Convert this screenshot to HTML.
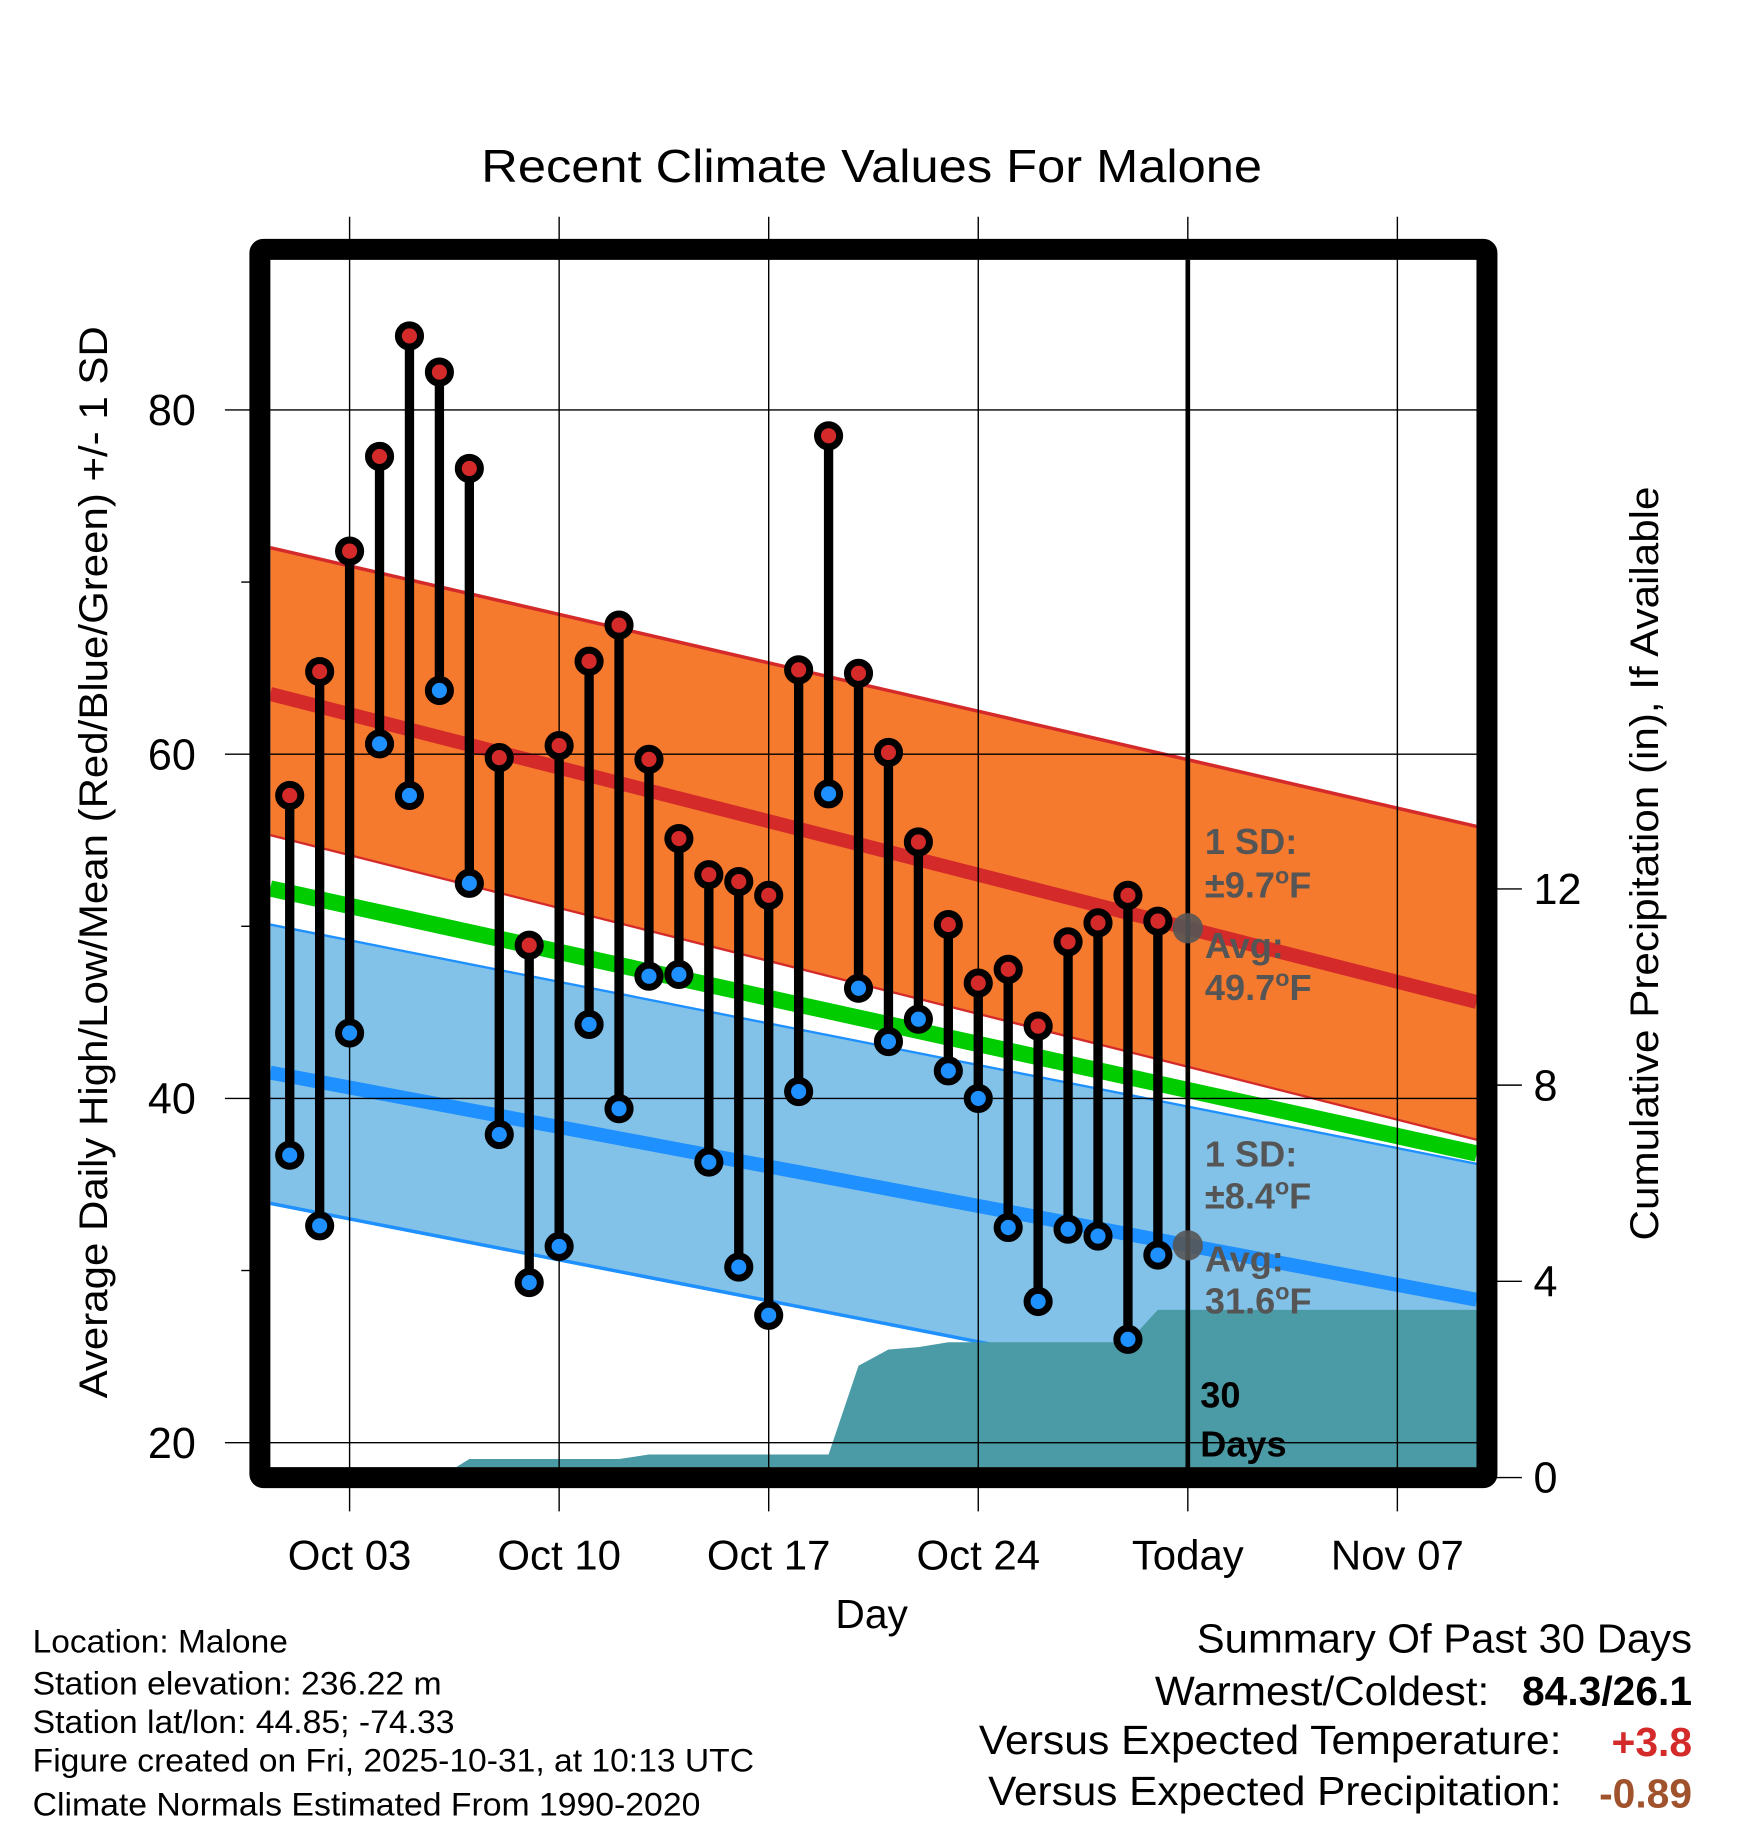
<!DOCTYPE html>
<html><head><meta charset="utf-8"><style>
html,body{margin:0;padding:0;background:#fff;}
svg{display:block;font-family:"Liberation Sans",sans-serif;}
</style></head><body>
<svg id="chart" width="1748" height="1828" viewBox="0 0 1500 1568.7" xmlns="http://www.w3.org/2000/svg">
<defs><clipPath id="plotclip"><rect x="232" y="223" width="1035" height="1036"/></clipPath></defs>
<g id="bg" clip-path="url(#plotclip)"></g>
<g id="grid"></g>
<g id="marks"></g>
<g id="axes"></g>
<text x="748" y="156" font-size="40" text-anchor="middle" textLength="670" lengthAdjust="spacingAndGlyphs">Recent Climate Values For Malone</text>
<text transform="translate(92,740) rotate(-90)" font-size="34" text-anchor="middle" textLength="920" lengthAdjust="spacingAndGlyphs">Average Daily High/Low/Mean (Red/Blue/Green) +/- 1 SD</text>
<text transform="translate(1423,741) rotate(-90)" font-size="34" text-anchor="middle" textLength="647" lengthAdjust="spacingAndGlyphs">Cumulative Precipitation (in), If Available</text>
<text x="748" y="1397" font-size="35" text-anchor="middle">Day</text>
<g font-size="31" font-weight="bold" fill="#555">
<text x="1034" y="733">1 SD:</text><text x="1034" y="770">±9.7<tspan dy="-12" font-size="20">o</tspan><tspan dy="12">F</tspan></text>
<text x="1034" y="822">Avg:</text><text x="1034" y="858">49.7<tspan dy="-12" font-size="20">o</tspan><tspan dy="12">F</tspan></text>
</g>
<g font-size="31" font-weight="bold" fill="#555">
<text x="1034" y="1001">1 SD:</text><text x="1034" y="1037">±8.4<tspan dy="-12" font-size="20">o</tspan><tspan dy="12">F</tspan></text>
<text x="1034" y="1091">Avg:</text><text x="1034" y="1127">31.6<tspan dy="-12" font-size="20">o</tspan><tspan dy="12">F</tspan></text>
</g>
<g font-size="31" font-weight="bold"><text x="1030" y="1208">30</text><text x="1030" y="1250">Days</text></g>
<g font-size="28">
<text x="28" y="1418" textLength="219" lengthAdjust="spacingAndGlyphs">Location: Malone</text>
<text x="28" y="1454" textLength="351" lengthAdjust="spacingAndGlyphs">Station elevation: 236.22 m</text>
<text x="28" y="1487" textLength="362" lengthAdjust="spacingAndGlyphs">Station lat/lon: 44.85; -74.33</text>
<text x="28" y="1520" textLength="619" lengthAdjust="spacingAndGlyphs">Figure created on Fri, 2025-10-31, at 10:13 UTC</text>
<text x="28" y="1558" textLength="573" lengthAdjust="spacingAndGlyphs">Climate Normals Estimated From 1990-2020</text>
</g>
<g font-size="35">
<text x="1452" y="1418" text-anchor="end" textLength="425" lengthAdjust="spacingAndGlyphs">Summary Of Past 30 Days</text>
<text x="1278" y="1463" text-anchor="end" textLength="287" lengthAdjust="spacingAndGlyphs">Warmest/Coldest:</text>
<text x="1452" y="1463" text-anchor="end" font-weight="bold">84.3/26.1</text>
<text x="1340" y="1505" text-anchor="end" textLength="500" lengthAdjust="spacingAndGlyphs">Versus Expected Temperature:</text>
<text x="1452" y="1507" text-anchor="end" font-weight="bold" fill="#d42a2a">+3.8</text>
<text x="1340" y="1549" text-anchor="end" textLength="492" lengthAdjust="spacingAndGlyphs">Versus Expected Precipitation:</text>
<text x="1452" y="1551" text-anchor="end" font-weight="bold" fill="#a0522d">-0.89</text>
</g>
<script>
const highs=[57.6,64.8,71.8,77.3,84.3,82.2,76.6,59.8,48.9,60.5,65.4,67.5,59.7,55.1,53.0,52.6,51.8,64.9,78.5,64.7,60.1,54.9,50.1,46.7,47.5,44.2,49.1,50.2,51.8,50.3];
const lows=[36.7,32.6,43.8,60.6,57.6,63.7,52.5,37.9,29.3,31.4,44.3,39.4,47.1,47.2,36.3,30.2,27.4,40.4,57.7,46.4,43.3,44.6,41.6,40.0,32.5,28.2,32.4,32.0,26.0,30.9];
const precip=[0,0,0,0,0,0,0.38,0.38,0.38,0.38,0.38,0.38,0.47,0.47,0.47,0.47,0.47,0.47,0.47,2.28,2.61,2.66,2.76,2.76,2.76,2.76,2.76,2.76,2.76,3.42];
const normDays=[-0.65,39.65];
const highUpper=[72.0,55.8];
const highMean=[63.5,45.6];
const highLower=[55.3,37.6];
const meanLine=[52.2,36.8];
const lowUpper=[50.1,36.2];
const lowMean=[41.5,28.3];
const lowLower=[33.9,20.2];
const yTicks=[20,40,60,80];
const yMinor=[30,50,70];
const pTicks=[0,4,8,12];
const xTickDays=[2,9,16,23,30,37];
const xTickLabels=["Oct 03","Oct 10","Oct 17","Oct 24","Today","Nov 07"];
const todayDay=30;

const NS="http://www.w3.org/2000/svg";
const X=d=>248.6+25.69*d;
const Y=v=>1238-(v-20)*14.77;
const P=p=>1268-p*42.1;
function mk(parent,tag,attrs){const e=document.createElementNS(NS,tag);for(const k in attrs)e.setAttribute(k,attrs[k]);document.getElementById(parent).appendChild(e);return e;}
function band(up,lo){return `M${X(normDays[0])},${Y(up[0])} L${X(normDays[1])},${Y(up[1])} L${X(normDays[1])},${Y(lo[1])} L${X(normDays[0])},${Y(lo[0])} Z`;}
function line(a){return `M${X(normDays[0])},${Y(a[0])} L${X(normDays[1])},${Y(a[1])}`;}

let e;
e=mk('bg','path',{d:band(highUpper,highLower),fill:'#f57a2e'});


e=mk('bg','path',{d:band(lowUpper,lowLower),fill:'#82c1e8'});


e=mk('bg','path',{d:line(highUpper),stroke:'#d42a2a',"stroke-width":3,fill:'none'});


e=mk('bg','path',{d:line(highLower),stroke:'#d42a2a',"stroke-width":2,fill:'none'});


e=mk('bg','path',{d:line(lowUpper),stroke:'#1e90ff',"stroke-width":2,fill:'none'});


e=mk('bg','path',{d:line(lowLower),stroke:'#1e90ff',"stroke-width":3,fill:'none'});


e=mk('bg','path',{d:line(meanLine),stroke:'#00cc00',"stroke-width":14,fill:'none'});


e=mk('bg','path',{d:line(highMean),stroke:'#d42a2a',"stroke-width":12,fill:'none'});


e=mk('bg','path',{d:line(lowMean),stroke:'#1e90ff',"stroke-width":12,fill:'none'});


let pd=`M${X(0)},1300`;
precip.forEach((p,i)=>{pd+=` L${X(i)},${P(p)}`;});
pd+=` L1270,${P(precip[precip.length-1])} L1270,1300 Z`;
e=mk('bg','path',{d:pd,fill:'#4a9ba5'});



yTicks.forEach(v=>{
 e=mk('grid','line',{x1:193,x2:1267,y1:Y(v),y2:Y(v),stroke:'#000','stroke-width':1.2});
 
 
 e=mk('axes','text',{x:168,y:Y(v)+13,'font-size':37,'text-anchor':'end'});
 e.textContent=v;
 
 
});
yMinor.forEach(v=>{
 e=mk('grid','line',{x1:207,x2:220,y1:Y(v),y2:Y(v),stroke:'#000','stroke-width':1.2});
 
 
});
pTicks.forEach(p=>{
 e=mk('grid','line',{x1:1280,x2:1306,y1:P(p),y2:P(p),stroke:'#000','stroke-width':1.2});
 
 
 e=mk('axes','text',{x:1316,y:P(p)+13,'font-size':37});
 e.textContent=p;
 
 
});
xTickDays.forEach((d,i)=>{
 e=mk('grid','line',{x1:X(d),x2:X(d),y1:186,y2:1297,stroke:'#000','stroke-width':1.2});
 
 
 e=mk('axes','text',{x:X(d),y:1347,'font-size':36,'text-anchor':'middle'});
 e.textContent=xTickLabels[i];
 
 
});
e=mk('grid','line',{x1:X(todayDay),x2:X(todayDay),y1:223,y2:1262,stroke:'#000','stroke-width':4});



highs.forEach((h,i)=>{
 const l=lows[i];
 e=mk('marks','line',{x1:X(i),x2:X(i),y1:Y(h),y2:Y(l),stroke:'#000','stroke-width':8});
 
 
});
highs.forEach((h,i)=>{
 e=mk('marks','circle',{cx:X(i),cy:Y(h),r:9.5,fill:'#d42a2a',stroke:'#000','stroke-width':6});
 
 
 e=mk('marks','circle',{cx:X(i),cy:Y(lows[i]),r:9.5,fill:'#1e90ff',stroke:'#000','stroke-width':6});
 
 
});
const hToday=highMean[0]+(highMean[1]-highMean[0])*(todayDay-normDays[0])/(normDays[1]-normDays[0]);
const lToday=lowMean[0]+(lowMean[1]-lowMean[0])*(todayDay-normDays[0])/(normDays[1]-normDays[0]);
e=mk('marks','circle',{cx:X(todayDay),cy:Y(hToday),r:13,fill:'#555','fill-opacity':0.9});


e=mk('marks','circle',{cx:X(todayDay),cy:Y(lToday),r:13,fill:'#555','fill-opacity':0.9});


e=mk('axes','rect',{x:223,y:214,width:1053,height:1054,fill:'none',stroke:'#000','stroke-width':18,rx:3});


</script>
</svg>
</body></html>
